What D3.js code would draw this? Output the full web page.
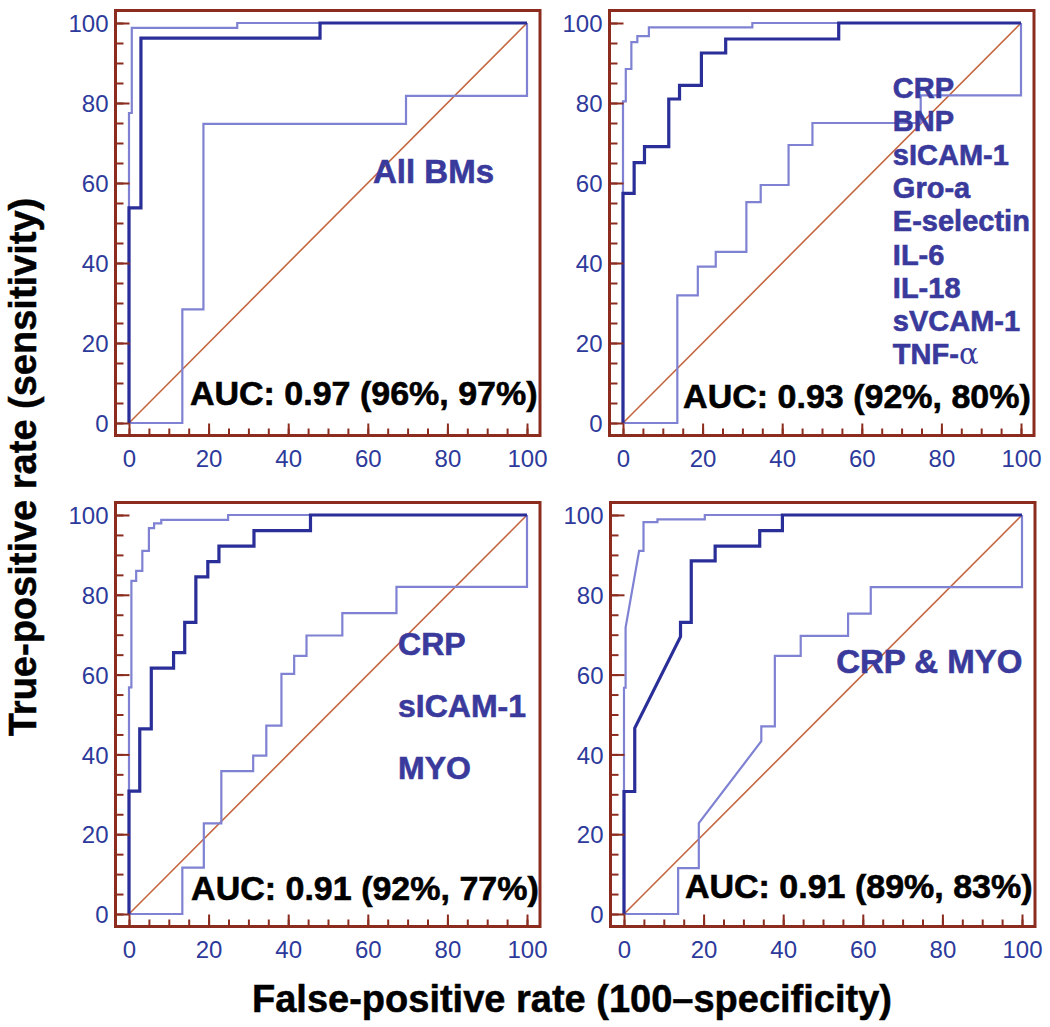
<!DOCTYPE html>
<html>
<head>
<meta charset="utf-8">
<script src="https://cdn.jsdelivr.net/npm/d3@7/dist/d3.min.js"></script>
<style>
  html, body { margin: 0; padding: 0; background: #fff; }
  svg { display: block; }
  text { font-family: "Liberation Sans", Arial, Helvetica, sans-serif; }
</style>
</head>
<body>
<div id="chart"></div>
<script>
// ---------------- DATA ----------------
const majorTicks = [0, 20, 40, 60, 80, 100];
const minorTicks = d3.range(0, 101, 5);

const xTitle = "False-positive rate (100\u2013specificity)";
const yTitle = "True-positive rate (sensitivity)";

const aucLabels = [
  "AUC: 0.97 (96%, 97%)",
  "AUC: 0.93 (92%, 80%)",
  "AUC: 0.91 (92%, 77%)",
  "AUC: 0.91 (89%, 83%)"
];

const markerSets = [
  ["All BMs"],
  ["CRP", "BNP", "sICAM-1", "Gro-a", "E-selectin", "IL-6", "IL-18", "sVCAM-1", "TNF-\u03b1"],
  ["CRP", "sICAM-1", "MYO"],
  ["CRP & MYO"]
];

// ROC curves: [false-positive rate, true-positive rate]
const p1Combined = [[0,0],[0,53.8],[3,53.8],[3,96.2],[48,96.2],[48,100],[100,100]];
const p1Upper = [[0,0],[0,77.5],[0.7,77.5],[0.7,98.8],[27.2,98.8],[27.2,100],[100,100]];
const p1Lower = [[0,0],[13.4,0],[13.4,28.4],[18.7,28.4],[18.7,74.8],[69.6,74.8],[69.6,81.8],[100,81.8],[100,100]];

const p2Combined = [[0,0],[0,57.4],[2.8,57.4],[2.8,65.1],[5.4,65.1],[5.4,69.1],[11.5,69.1],[11.5,81.0],[14.2,81.0],[14.2,84.4],[19.7,84.4],[19.7,92.5],[25.8,92.5],[25.8,96.0],[54.2,96.0],[54.2,100],[100,100]];
const p2Upper = [[0,0],[0,80.4],[0.7,80.4],[0.7,88.5],[2.1,88.5],[2.1,95.2],[3.6,95.2],[3.6,96.7],[6.5,96.7],[6.5,98.9],[32.5,98.9],[32.5,100],[100,100]];
const p2Lower = [[0,0],[13.65,0],[13.65,31.9],[18.8,31.9],[18.8,39.1],[23.3,39.1],[23.3,42.8],[31.0,42.8],[31.0,55.2],[34.6,55.2],[34.6,59.5],[41.6,59.5],[41.6,69.5],[47.6,69.5],[47.6,75.0],[74.8,75.0],[74.8,81.9],[100,81.9],[100,100]];

const p3Combined = [[0,0],[0,30.8],[2.7,30.8],[2.7,46.4],[5.6,46.4],[5.6,61.6],[11.2,61.6],[11.2,65.5],[14.0,65.5],[14.0,73.1],[16.8,73.1],[16.8,84.5],[19.8,84.5],[19.8,88.3],[22.6,88.3],[22.6,92.2],[31.4,92.2],[31.4,96.1],[45.6,96.1],[45.6,100],[100,100]];
const p3Upper = [[0,0],[0,56.8],[0.6,56.8],[0.6,83.5],[1.8,83.5],[1.8,86.0],[3.35,86.0],[3.35,91.0],[5.0,91.0],[5.0,96.7],[6.3,96.7],[6.3,97.9],[8.1,97.9],[8.1,98.8],[24.9,98.8],[24.9,100],[100,100]];
const p3Lower = [[0,0],[13.4,0],[13.4,11.6],[18.8,11.6],[18.8,22.7],[23.2,22.7],[23.2,35.8],[31.2,35.8],[31.2,39.7],[34.5,39.7],[34.5,47.2],[38.3,47.2],[38.3,60.2],[41.5,60.2],[41.5,64.7],[44.6,64.7],[44.6,69.8],[53.6,69.8],[53.6,75.4],[67.2,75.4],[67.2,82.0],[100,82.0],[100,100]];

const p4Combined = [[0,0],[0,30.7],[2.7,30.7],[2.7,46.6],[14.2,69.5],[14.2,73.1],[16.9,73.1],[16.9,88.5],[22.9,88.5],[22.9,92.2],[34.1,92.2],[34.1,96.1],[39.8,96.1],[39.8,100],[100,100]];
const p4Upper = [[0,0],[0,56.7],[0.4,56.7],[0.4,71.8],[3.8,91.0],[4.9,91.0],[4.9,98.2],[8.4,98.2],[8.4,98.9],[20.3,98.9],[20.3,100],[100,100]];
const p4Lower = [[0,0],[13.6,0],[13.6,11.5],[18.8,11.5],[18.8,22.8],[34.5,43.3],[34.5,47.0],[37.9,47.0],[37.9,64.7],[44.4,64.7],[44.4,69.7],[56.3,69.7],[56.3,75.3],[62.0,75.3],[62.0,81.9],[100,81.9],[100,100]];

const diagonal = [[0,0],[100,100]];

// ---------------- LAYOUT ----------------
const W = 1050, H = 1027;
const panels = [
  { xr: [129, 527], yr: [423, 23],  combined: p1Combined, upper: p1Upper, lower: p1Lower,
    auc: [15.3, 4.5], lab: { x: 61.3, y: 60, dy: 0, size: 33 } },
  { xr: [623, 1021], yr: [423, 23], combined: p2Combined, upper: p2Upper, lower: p2Lower,
    auc: [15.1, 3.75], lab: { x: 67.8, y: 81.25, dy: 33.3, size: 29 } },
  { xr: [129, 527], yr: [914, 515], combined: p3Combined, upper: p3Upper, lower: p3Lower,
    auc: [15.6, 3.5], lab: { x: 67.6, y: 64.9, dy: 62, size: 32 } },
  { xr: [624, 1022], yr: [914, 515], combined: p4Combined, upper: p4Upper, lower: p4Lower,
    auc: [15.3, 4.0], lab: { x: 53.3, y: 60.4, dy: 0, size: 33 } }
];

const C = {
  frame: "#8b2c1e",
  tickText: "#2d3a9b",
  thick: "#2a2e98",
  thin: "#7f82d2",
  diag: "#c4663f",
  label: "#3a3a9c"
};

const svg = d3.select("#chart").append("svg")
  .attr("width", W).attr("height", H);

panels.forEach((p, i) => {
  const x = d3.scaleLinear().domain([0, 100]).range(p.xr);
  const y = d3.scaleLinear().domain([0, 100]).range(p.yr);
  const fl = p.xr[0] - 13.5, fr = p.xr[1] + 13;
  const ft = p.yr[1] - 12.5, fb = p.yr[0] + 12.5;
  const g = svg.append("g");

  const line = d3.line().x(d => x(d[0])).y(d => y(d[1]));

  // diagonal
  g.append("path").datum(diagonal).attr("d", line)
    .attr("fill", "none").attr("stroke", C.diag).attr("stroke-width", 1.6);

  // thin curves
  [p.lower, p.upper].forEach(c => {
    g.append("path").datum(c).attr("d", line)
      .attr("fill", "none").attr("stroke", C.thin).attr("stroke-width", 2.2)
      .attr("stroke-linejoin", "miter");
  });
  // thick curve
  g.append("path").datum(p.combined).attr("d", line)
    .attr("fill", "none").attr("stroke", C.thick).attr("stroke-width", 3.2)
    .attr("stroke-linejoin", "miter");

  // ticks
  const yMinor = g.append("g").attr("transform", `translate(${fl},0)`)
    .call(d3.axisLeft(y).tickValues(minorTicks).tickSize(-8).tickFormat(""));
  const yMajor = g.append("g").attr("transform", `translate(${fl},0)`)
    .call(d3.axisLeft(y).tickValues(majorTicks).tickSize(-14).tickPadding(7));
  const xMinor = g.append("g").attr("transform", `translate(0,${fb})`)
    .call(d3.axisBottom(x).tickValues(minorTicks).tickSize(-7).tickFormat(""));
  const xMajor = g.append("g").attr("transform", `translate(0,${fb})`)
    .call(d3.axisBottom(x).tickValues(majorTicks).tickSize(-12).tickPadding(14));

  [yMinor, yMajor, xMinor, xMajor].forEach(a => {
    a.select(".domain").remove();
    a.selectAll(".tick line").attr("stroke", C.frame).attr("stroke-width", 2);
    a.selectAll(".tick text")
      .attr("fill", C.tickText)
      .style("font-family", '"Liberation Sans", Arial, sans-serif')
      .style("font-size", "24px");
  });
  yMajor.selectAll(".tick text").attr("dy", "0.36em");

  // frame
  g.append("rect").attr("x", fl).attr("y", ft)
    .attr("width", fr - fl).attr("height", fb - ft)
    .attr("fill", "none").attr("stroke", C.frame).attr("stroke-width", 3);

  // marker labels
  const lab = g.append("text")
    .attr("x", x(p.lab.x)).attr("y", y(p.lab.y))
    .attr("fill", C.label)
    .attr("stroke", C.label).attr("stroke-width", 0.6)
    .style("font-weight", "bold")
    .style("font-size", p.lab.size + "px");
  markerSets[i].forEach((m, k) => {
    const ts = lab.append("tspan").attr("x", x(p.lab.x)).attr("y", y(p.lab.y) + k * p.lab.dy);
    if (m.indexOf("\u03b1") >= 0) {
      ts.text(m.replace("\u03b1", ""));
      ts.append("tspan").style("font-weight", "normal").attr("stroke-width", 0)
        .style("font-family", '"DejaVu Serif", serif').text("\u03b1");
    } else {
      ts.text(m);
    }
  });

  // AUC
  g.append("text")
    .attr("x", x(p.auc[0])).attr("y", y(p.auc[1]))
    .attr("fill", "#000")
    .attr("stroke", "#000").attr("stroke-width", 0.6)
    .style("font-weight", "bold")
    .style("font-size", "34px")
    .text(aucLabels[i]);
});

// axis titles
svg.append("text")
  .attr("transform", "translate(36,467) rotate(-90)")
  .attr("text-anchor", "middle")
  .attr("stroke", "#000").attr("stroke-width", 0.5)
  .style("font-weight", "bold").style("font-size", "38px")
  .text(yTitle);

svg.append("text")
  .attr("x", 572).attr("y", 1012)
  .attr("text-anchor", "middle")
  .attr("stroke", "#000").attr("stroke-width", 0.5)
  .style("font-weight", "bold").style("font-size", "38px")
  .text(xTitle);
</script>
</body>
</html>
